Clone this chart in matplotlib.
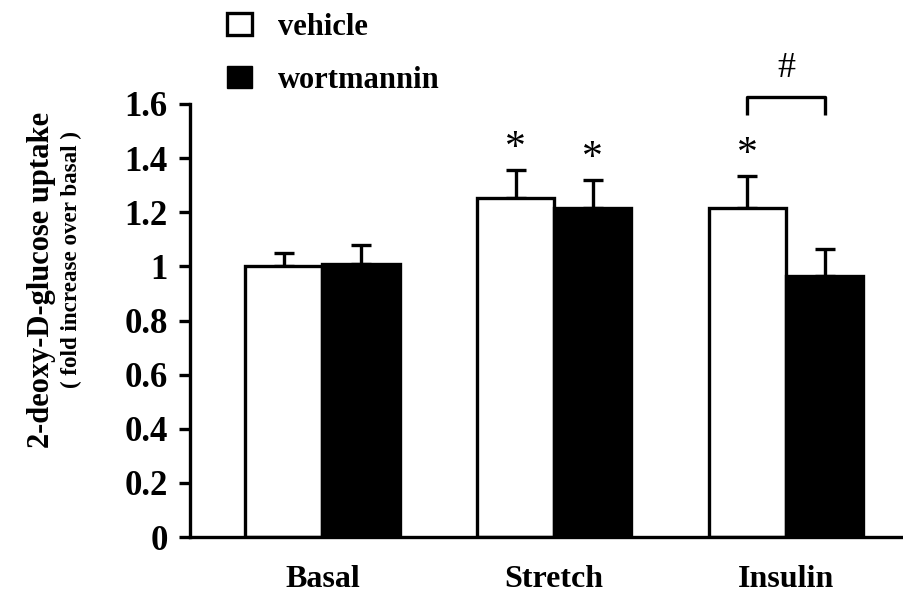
import numpy as np
import matplotlib.pyplot as plt
from matplotlib.patches import Patch

# Data
groups = ['Basal', 'Stretch', 'Insulin']
vehicle = [1.00, 1.253, 1.216]
vehicle_err = [0.05, 0.103, 0.118]
wortmannin = [1.01, 1.216, 0.965]
wortmannin_err = [0.07, 0.103, 0.10]
yticks = [0, 0.2, 0.4, 0.6, 0.8, 1, 1.2, 1.4, 1.6]
ytick_labels = ['0', '0.2', '0.4', '0.6', '0.8', '1', '1.2', '1.4', '1.6']

plt.rcParams['font.family'] = ['Liberation Serif', 'DejaVu Serif']
plt.rcParams['font.weight'] = 'bold'

fig = plt.figure(figsize=(9.04, 5.95), dpi=100)
ax = fig.add_axes([190 / 904, 58 / 595, 712 / 904, 433 / 595])

x = np.arange(len(groups))
w = 0.333
lw = 2.4

ax.bar(x - w / 2, vehicle, w, color='white', edgecolor='black', linewidth=lw, zorder=2)
ax.bar(x + w / 2, wortmannin, w, color='black', edgecolor='black', linewidth=lw, zorder=2)

zeros = [0] * len(groups)
ax.errorbar(x - w / 2, vehicle, yerr=[zeros, vehicle_err], fmt='none', ecolor='black',
            elinewidth=lw, capsize=7, capthick=lw, zorder=1)
ax.errorbar(x + w / 2, wortmannin, yerr=[zeros, wortmannin_err], fmt='none', ecolor='black',
            elinewidth=lw, capsize=7, capthick=lw, zorder=1)

# significance marks
star_bars = [(1 - w / 2, vehicle[1] + vehicle_err[1]),
             (1 + w / 2, wortmannin[1] + wortmannin_err[1]),
             (2 - w / 2, vehicle[2] + vehicle_err[2])]
for sx, sy in star_bars:
    ax.text(sx, sy + 0.08, '*', ha='center', va='center', fontsize=30, fontweight='normal')

bx = [2 - w / 2, 2 - w / 2, 2 + w / 2, 2 + w / 2]
by = [1.56, 1.626, 1.626, 1.56]
ax.plot(bx, by, color='black', lw=lw, clip_on=False, solid_capstyle='butt')
ax.text(2, 1.73, '#', ha='center', va='center', fontsize=26, fontweight='normal')

ax.set_xlim(-0.571, 2.50)
ax.set_ylim(0, 1.6)
ax.set_yticks(yticks)
ax.set_yticklabels(ytick_labels, fontsize=25, fontweight='bold')
ax.set_xticks(x)
ax.set_xticklabels(groups, fontsize=23, fontweight='bold')
ax.tick_params(axis='x', length=0, pad=20)
ax.tick_params(axis='y', length=8, width=lw, pad=8)
ax.spines['right'].set_visible(False)
ax.spines['top'].set_visible(False)
ax.spines['left'].set_linewidth(lw)
ax.spines['bottom'].set_linewidth(lw)

fig.text(42 / 904, 1 - 280 / 595, '2-deoxy-D-glucose uptake', rotation=90,
         ha='center', va='center', fontsize=22, fontweight='bold')
fig.text(71 / 904, 1 - 259 / 595, '( fold increase over basal )', rotation=90,
         ha='center', va='center', fontsize=16.6, fontweight='bold')

handles = [Patch(facecolor='white', edgecolor='black', linewidth=lw, label='vehicle'),
           Patch(facecolor='black', edgecolor='black', label='wortmannin')]
fig.legend(handles=handles, loc='upper left', bbox_to_anchor=(200 / 904, 1 + 15 / 595),
           frameon=False, prop={'size': 22, 'weight': 'bold'},
           handlelength=0.8, handleheight=0.75, labelspacing=0.8, handletextpad=0.85)

plt.savefig('out.png', dpi=100)
